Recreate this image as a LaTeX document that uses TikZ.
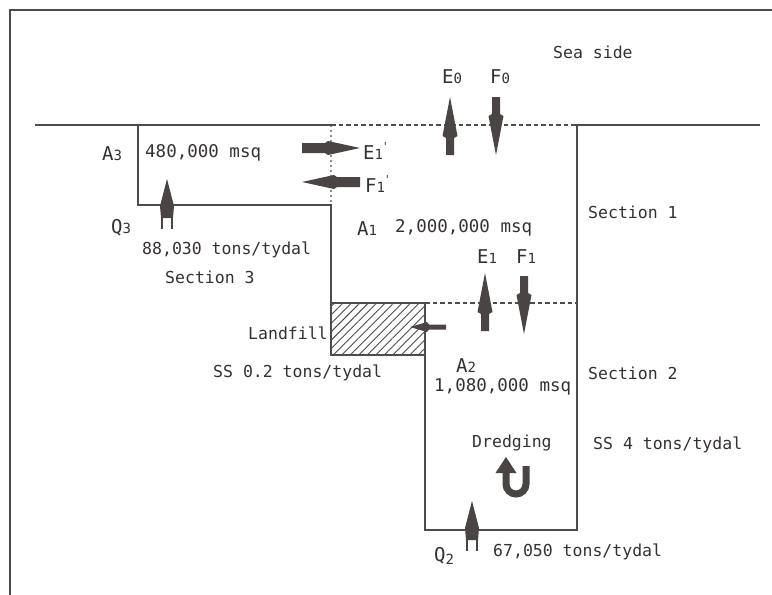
\documentclass[tikz,border=0pt]{standalone}
\usepackage{fontspec}
\setmonofont{DejaVu Sans Mono}
\usetikzlibrary{patterns.meta}
\definecolor{ink}{HTML}{4A4545}
\definecolor{txt}{HTML}{353131}
\definecolor{wallc}{HTML}{4C4C4C}
\newcommand{\biglet}[1]{{\fontsize{19}{19}\selectfont #1}}
\newcommand{\sbs}[1]{{\fontsize{14}{14}\selectfont #1}}
\newcommand{\prm}{\raisebox{9pt}{\fontsize{11}{11}\selectfont\kern-1pt'}}
\tikzset{
  lbl/.style={font=\ttfamily\fontsize{16.5}{17}\selectfont, text=txt, inner sep=0pt, anchor=west},
  arealbl/.style={lbl, font=\ttfamily\fontsize{17.5}{18}\selectfont},
  wall/.style={draw=wallc, line width=1.2pt},
  frame/.style={draw=wallc, line width=1.3pt},
  dashln/.style={draw=wallc, line width=1.2pt, dash pattern=on 4.5pt off 3pt},
  dotln/.style={draw=wallc!65, line width=1.2pt, dash pattern=on 2pt off 3pt},
  stemln/.style={draw=ink, line width=1.3pt},
  fatv/.pic={\fill[ink] (-4,0) -- (-4,-17) -- (-7.5,-19) -- (0,-58) -- (7.5,-19) -- (4,-17) -- (4,0) -- cycle;},
  fath/.pic={\fill[ink] (-5,0) -- (-5,-23) -- (-7,-26) -- (0,-58) -- (7,-26) -- (5,-23) -- (5,0) -- cycle;},
  smallarr/.pic={\fill[ink] (-2.5,0) -- (-2.5,-17) -- (-5,-19) -- (0,-36) -- (5,-19) -- (2.5,-17) -- (2.5,0) -- cycle;},
  inflow/.pic={\fill[ink] (0,-50) -- (7,-23) -- (6,-11) -- (-6,-11) -- (-7,-23) -- cycle;
                \draw[stemln] (-5,-23) -- (-5,0) (5,-23) -- (5,0);}
}
\begin{document}
\begin{tikzpicture}[x=1pt,y=-1pt]
\useasboundingbox (0,0) rectangle (772,595);
\fill[white] (0,0) rectangle (772,595);
\draw[frame] (10,595) -- (10,10) -- (772,10);

% outline coordinates
\coordinate (shoreL) at (35,125);
\coordinate (s3TL) at (138,125);
\coordinate (s3BL) at (138,205);
\coordinate (s3BR) at (331,205);
\coordinate (s1TL) at (331,125);
\coordinate (lfTL) at (331,303);
\coordinate (lfTR) at (425,303);
\coordinate (lfBR) at (425,355);
\coordinate (s2BL) at (425,530);
\coordinate (s2BR) at (577,530);
\coordinate (s2TR) at (577,303);
\coordinate (s1TR) at (577,125);
\coordinate (shoreR) at (760,125);

\draw[dotln] (s1TL) -- (s3BR);
\draw[dashln] (s1TL) -- (s1TR);
\draw[dashln] (lfTR) -- (s2TR);
\draw[wall] (shoreL) -- (s1TL);
\draw[wall] (s3TL) -- (s3BL) -- (s3BR) -- (lfTL);
\draw[wall, pattern={Lines[angle=45,distance=6pt,line width=0.9pt]}, pattern color=wallc] (lfTL) rectangle (lfBR);
\draw[wall] (lfBR) -- (s2BL) -- (s2BR) -- (s1TR) -- (shoreR);

% exchange arrows (tail positions)
\coordinate (e0) at (450,155);
\coordinate (f0) at (496,97);
\coordinate (e1) at (485,331);
\coordinate (f1) at (524,276);
\coordinate (e1p) at (302,148);
\coordinate (f1p) at (360,182);
\coordinate (lfar) at (446,327);
\pic at (e0) {fatv};
\pic[rotate=180] at (f0) {fatv};
\pic at (e1) {fatv};
\pic[rotate=180] at (f1) {fatv};
\pic[rotate=-90] at (e1p) {fath};
\pic[rotate=90] at (f1p) {fath};
\pic[rotate=90] at (lfar) {smallarr};

% dredging turn
\coordinate (dra) at (526,466);
\coordinate (drt) at (506,457);
\draw[ink, line width=7pt] (dra) -- (526,484) arc[start angle=0,end angle=180,radius=10] -- (506,471);
\fill[ink] (drt) -- (516.5,473) -- (495.5,473) -- cycle;

% inflow arrows Q3, Q2
\coordinate (q3) at (167,229);
\coordinate (q2) at (472,551);
\pic at (q3) {inflow};
\pic at (q2) {inflow};

% labels
\node[lbl] (seaside) at (553,52) {Sea side};
\node[lbl] (E0) at (442,77) {\biglet{E}\sbs{0}};
\node[lbl] (F0) at (490,77) {\biglet{F}\sbs{0}};
\node[lbl] (sec1) at (588,212) {Section 1};
\node[lbl] (A1) at (357,229) {\biglet{A}\sbs{1}};
\node[arealbl] (a1area) at (395,228) {2,000,000 msq};
\node[lbl] (E1) at (477,257) {\biglet{E}\sbs{1}};
\node[lbl] (F1) at (516,257) {\biglet{F}\sbs{1}};
\node[lbl] (A3) at (102,154) {\biglet{A}\sbs{3}};
\node[arealbl] (a3area) at (145,153) {480,000 msq};
\node[lbl] (E1p) at (363,151) {\biglet{E}\sbs{1}\prm};
\node[lbl] (F1p) at (365,184) {\biglet{F}\sbs{1}\prm};
\node[lbl] (Q3) at (111,228) {\biglet{Q}\sbs{3}};
\node[lbl] (q3val) at (142,250) {88,030 tons/tydal};
\node[lbl] (sec3) at (165,277) {Section 3};
\node[lbl] (landfill) at (248,333) {Landfill};
\node[lbl] (ss02) at (213,373) {SS 0.2 tons/tydal};
\node[lbl] (A2) at (456,366) {\biglet{A}\sbs{2}};
\node[arealbl] (a2area) at (434,387) {1,080,000 msq};
\node[lbl] (sec2) at (588,373) {Section 2};
\node[lbl] (dredge) at (472,443) {Dredging};
\node[lbl] (ss4) at (593,445) {SS 4 tons/tydal};
\node[lbl] (Q2) at (434,556) {\biglet{Q}\raisebox{-3pt}{\sbs{2}}};
\node[lbl] (q2val) at (493,552) {67,050 tons/tydal};
\end{tikzpicture}
\end{document}
